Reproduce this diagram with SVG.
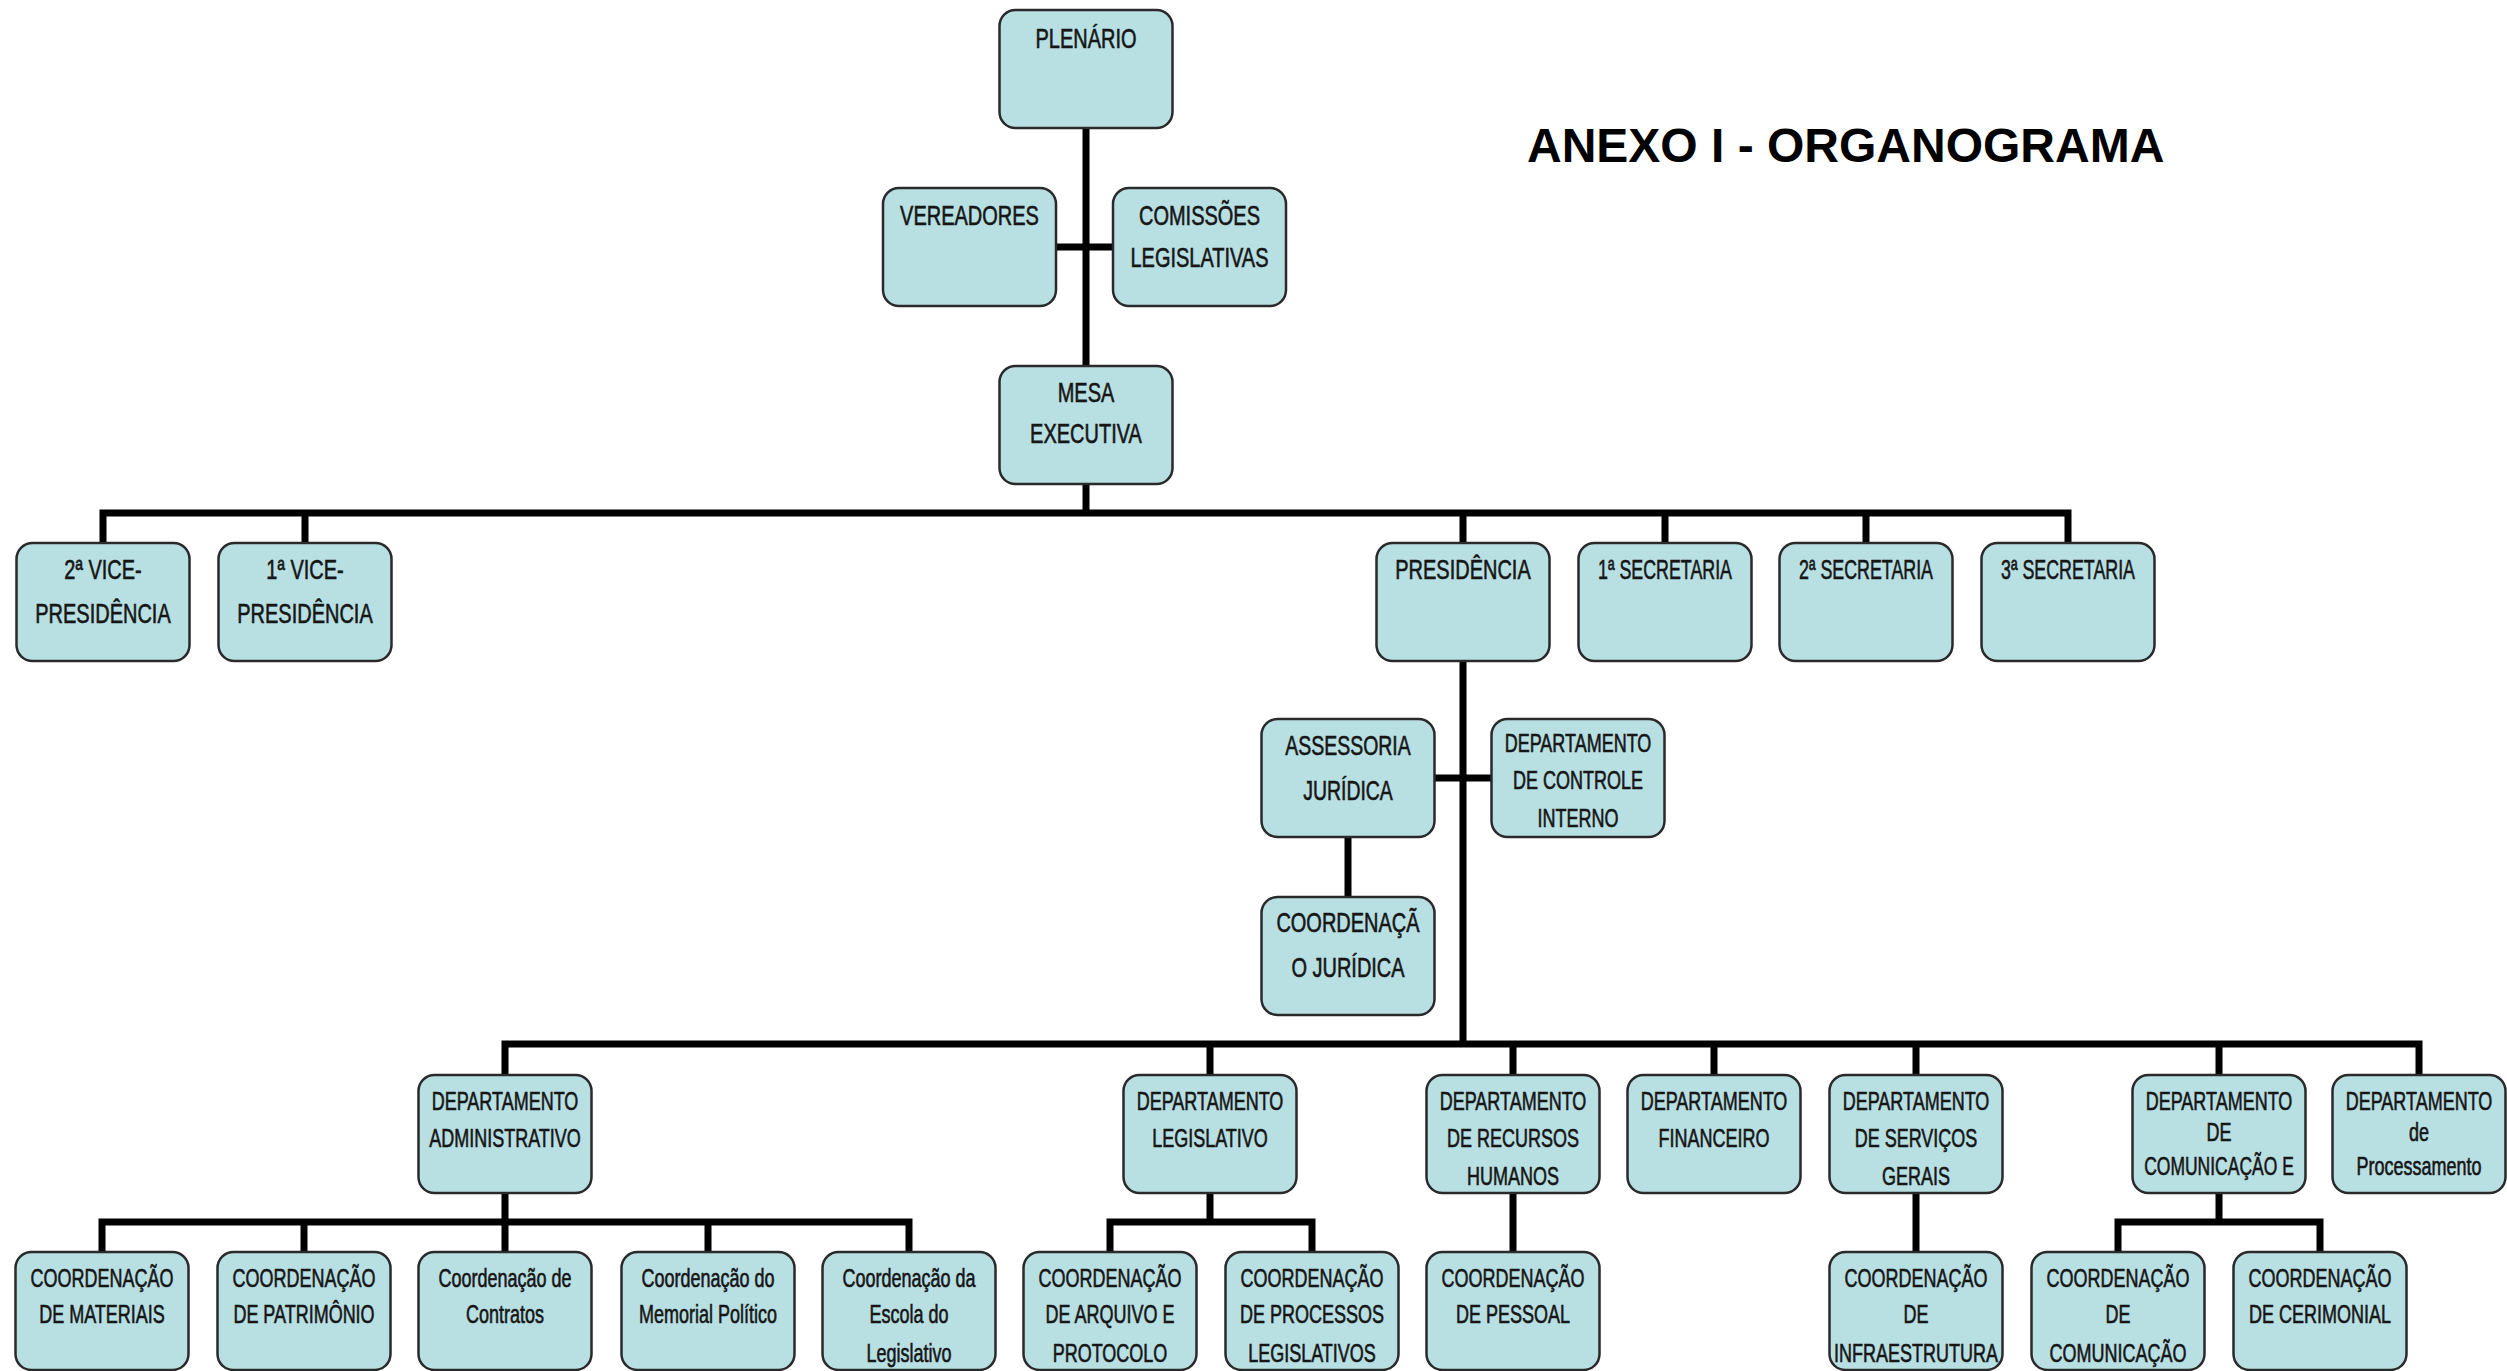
<svg xmlns="http://www.w3.org/2000/svg" width="2507" height="1371" viewBox="0 0 2507 1371">
<style>
.bg{fill:#ffffff}
.box{fill:#b8dfe2;stroke:#2a2a2a;stroke-width:2.5}
.ln{fill:none;stroke:#000;stroke-width:7;stroke-linejoin:miter;stroke-linecap:butt}
.u{font-family:"Liberation Sans",Arial,sans-serif;font-size:27px;text-anchor:middle;fill:#161616;stroke:#161616;stroke-width:0.6}
.l{font-family:"Liberation Sans",Arial,sans-serif;font-size:25px;text-anchor:middle;fill:#161616;stroke:#161616;stroke-width:0.6}
.title{font-family:"Liberation Sans",Arial,sans-serif;font-size:48px;font-weight:bold;fill:#000}
</style>
<defs>
<rect id="b" width="173" height="118" rx="16" ry="16" class="box"/>
</defs>
<rect class="bg" x="0" y="0" width="2507" height="1371"/>
<text class="title" x="1527" y="162">ANEXO I - ORGANOGRAMA</text>
<g id="connectors">
<path class="ln" d="M1086,128 V366"/>
<path class="ln" d="M1056,247 H1113"/>
<path class="ln" d="M1086,484 V513"/>
<path class="ln" d="M103,543 V513 H2068 V543"/>
<path class="ln" d="M305,513 V543 M1463,513 V543 M1665,513 V543 M1866,513 V543"/>
<path class="ln" d="M1463,661 V1044"/>
<path class="ln" d="M1434,778 H1491"/>
<path class="ln" d="M1348,837 V897"/>
<path class="ln" d="M505,1075 V1044 H2419 V1075"/>
<path class="ln" d="M1210,1044 V1075 M1513,1044 V1075 M1714,1044 V1075 M1916,1044 V1075 M2219,1044 V1075"/>
<path class="ln" d="M505,1193 V1222 M102,1252 V1222 H909 V1252 M304,1222 V1252 M505,1222 V1252 M708,1222 V1252"/>
<path class="ln" d="M1210,1193 V1222 M1110,1252 V1222 H1312 V1252"/>
<path class="ln" d="M1513,1193 V1252"/>
<path class="ln" d="M1916,1193 V1252"/>
<path class="ln" d="M2219,1193 V1222 M2118,1252 V1222 H2320 V1252"/>
</g>
<g id="plenario"><use href="#b" x="999.5" y="10"/><text class="u" transform="translate(1086,48) scale(.74,1)">PLENÁRIO</text></g>
<g id="vereadores"><use href="#b" x="883" y="188"/><text class="u" transform="translate(969.5,225) scale(.74,1)">VEREADORES</text></g>
<g id="comissoes"><use href="#b" x="1113" y="188"/><text class="u" transform="translate(1199.5,225) scale(.74,1)">COMISSÕES</text><text class="u" transform="translate(1199.5,267) scale(.74,1)">LEGISLATIVAS</text></g>
<g id="mesa"><use href="#b" x="999.5" y="366"/><text class="u" transform="translate(1086,402) scale(.74,1)">MESA</text><text class="u" transform="translate(1086,443) scale(.74,1)">EXECUTIVA</text></g>
<g id="vice2"><use href="#b" x="16.5" y="543"/><text class="u" transform="translate(103,579) scale(.74,1)">2ª VICE-</text><text class="u" transform="translate(103,623) scale(.74,1)">PRESIDÊNCIA</text></g>
<g id="vice1"><use href="#b" x="218.5" y="543"/><text class="u" transform="translate(305,579) scale(.74,1)">1ª VICE-</text><text class="u" transform="translate(305,623) scale(.74,1)">PRESIDÊNCIA</text></g>
<g id="presidencia"><use href="#b" x="1376.5" y="543"/><text class="u" transform="translate(1463,579) scale(.74,1)">PRESIDÊNCIA</text></g>
<g id="sec1"><use href="#b" x="1578.5" y="543"/><text class="u" transform="translate(1665,579) scale(.66,1)">1ª SECRETARIA</text></g>
<g id="sec2"><use href="#b" x="1779.5" y="543"/><text class="u" transform="translate(1866,579) scale(.66,1)">2ª SECRETARIA</text></g>
<g id="sec3"><use href="#b" x="1981.5" y="543"/><text class="u" transform="translate(2068,579) scale(.66,1)">3ª SECRETARIA</text></g>
<g id="assessoria"><use href="#b" x="1261.5" y="719"/><text class="u" transform="translate(1348,755) scale(.72,1)">ASSESSORIA</text><text class="u" transform="translate(1348,800) scale(.72,1)">JURÍDICA</text></g>
<g id="controle"><use href="#b" x="1491.5" y="719"/><text class="l" transform="translate(1578,752) scale(.72,1)">DEPARTAMENTO</text><text class="l" transform="translate(1578,789) scale(.72,1)">DE CONTROLE</text><text class="l" transform="translate(1578,827) scale(.72,1)">INTERNO</text></g>
<g id="coordjur"><use href="#b" x="1261.5" y="897"/><text class="u" transform="translate(1348,932) scale(.74,1)">COORDENAÇÃ</text><text class="u" transform="translate(1348,977) scale(.74,1)">O JURÍDICA</text></g>
<g id="depadm"><use href="#b" x="418.5" y="1075"/><text class="l" transform="translate(505,1110) scale(.72,1)">DEPARTAMENTO</text><text class="l" transform="translate(505,1147) scale(.72,1)">ADMINISTRATIVO</text></g>
<g id="deplegis"><use href="#b" x="1123.5" y="1075"/><text class="l" transform="translate(1210,1110) scale(.72,1)">DEPARTAMENTO</text><text class="l" transform="translate(1210,1147) scale(.72,1)">LEGISLATIVO</text></g>
<g id="deprh"><use href="#b" x="1426.5" y="1075"/><text class="l" transform="translate(1513,1110) scale(.72,1)">DEPARTAMENTO</text><text class="l" transform="translate(1513,1147) scale(.72,1)">DE RECURSOS</text><text class="l" transform="translate(1513,1185) scale(.72,1)">HUMANOS</text></g>
<g id="depfin"><use href="#b" x="1627.5" y="1075"/><text class="l" transform="translate(1714,1110) scale(.72,1)">DEPARTAMENTO</text><text class="l" transform="translate(1714,1147) scale(.72,1)">FINANCEIRO</text></g>
<g id="depsg"><use href="#b" x="1829.5" y="1075"/><text class="l" transform="translate(1916,1110) scale(.72,1)">DEPARTAMENTO</text><text class="l" transform="translate(1916,1147) scale(.72,1)">DE SERVIÇOS</text><text class="l" transform="translate(1916,1185) scale(.72,1)">GERAIS</text></g>
<g id="depcom"><use href="#b" x="2132.5" y="1075"/><text class="l" transform="translate(2219,1110) scale(.72,1)">DEPARTAMENTO</text><text class="l" transform="translate(2219,1141) scale(.72,1)">DE</text><text class="l" transform="translate(2219,1175) scale(.70,1)">COMUNICAÇÃO E</text></g>
<g id="depproc"><use href="#b" x="2332.5" y="1075"/><text class="l" transform="translate(2419,1110) scale(.72,1)">DEPARTAMENTO</text><text class="l" transform="translate(2419,1141) scale(.72,1)">de</text><text class="l" transform="translate(2419,1175) scale(.72,1)">Processamento</text></g>
<g id="materiais"><use href="#b" x="15.5" y="1252"/><text class="l" transform="translate(102,1287) scale(.72,1)">COORDENAÇÃO</text><text class="l" transform="translate(102,1323) scale(.72,1)">DE MATERIAIS</text></g>
<g id="patrimonio"><use href="#b" x="217.5" y="1252"/><text class="l" transform="translate(304,1287) scale(.72,1)">COORDENAÇÃO</text><text class="l" transform="translate(304,1323) scale(.72,1)">DE PATRIMÔNIO</text></g>
<g id="contratos"><use href="#b" x="418.5" y="1252"/><text class="l" transform="translate(505,1287) scale(.72,1)">Coordenação de</text><text class="l" transform="translate(505,1323) scale(.72,1)">Contratos</text></g>
<g id="memorial"><use href="#b" x="621.5" y="1252"/><text class="l" transform="translate(708,1287) scale(.72,1)">Coordenação do</text><text class="l" transform="translate(708,1323) scale(.72,1)">Memorial Político</text></g>
<g id="escola"><use href="#b" x="822.5" y="1252"/><text class="l" transform="translate(909,1287) scale(.72,1)">Coordenação da</text><text class="l" transform="translate(909,1323) scale(.72,1)">Escola do</text><text class="l" transform="translate(909,1362) scale(.72,1)">Legislativo</text></g>
<g id="arquivo"><use href="#b" x="1023.5" y="1252"/><text class="l" transform="translate(1110,1287) scale(.72,1)">COORDENAÇÃO</text><text class="l" transform="translate(1110,1323) scale(.72,1)">DE ARQUIVO E</text><text class="l" transform="translate(1110,1362) scale(.72,1)">PROTOCOLO</text></g>
<g id="processos"><use href="#b" x="1225.5" y="1252"/><text class="l" transform="translate(1312,1287) scale(.72,1)">COORDENAÇÃO</text><text class="l" transform="translate(1312,1323) scale(.72,1)">DE PROCESSOS</text><text class="l" transform="translate(1312,1362) scale(.72,1)">LEGISLATIVOS</text></g>
<g id="pessoal"><use href="#b" x="1426.5" y="1252"/><text class="l" transform="translate(1513,1287) scale(.72,1)">COORDENAÇÃO</text><text class="l" transform="translate(1513,1323) scale(.72,1)">DE PESSOAL</text></g>
<g id="infra"><use href="#b" x="1829.5" y="1252"/><text class="l" transform="translate(1916,1287) scale(.72,1)">COORDENAÇÃO</text><text class="l" transform="translate(1916,1323) scale(.72,1)">DE</text><text class="l" transform="translate(1916,1362) scale(.72,1)">INFRAESTRUTURA</text></g>
<g id="comunicacao"><use href="#b" x="2031.5" y="1252"/><text class="l" transform="translate(2118,1287) scale(.72,1)">COORDENAÇÃO</text><text class="l" transform="translate(2118,1323) scale(.72,1)">DE</text><text class="l" transform="translate(2118,1362) scale(.72,1)">COMUNICAÇÃO</text></g>
<g id="cerimonial"><use href="#b" x="2233.5" y="1252"/><text class="l" transform="translate(2320,1287) scale(.72,1)">COORDENAÇÃO</text><text class="l" transform="translate(2320,1323) scale(.72,1)">DE CERIMONIAL</text></g>
</svg>
